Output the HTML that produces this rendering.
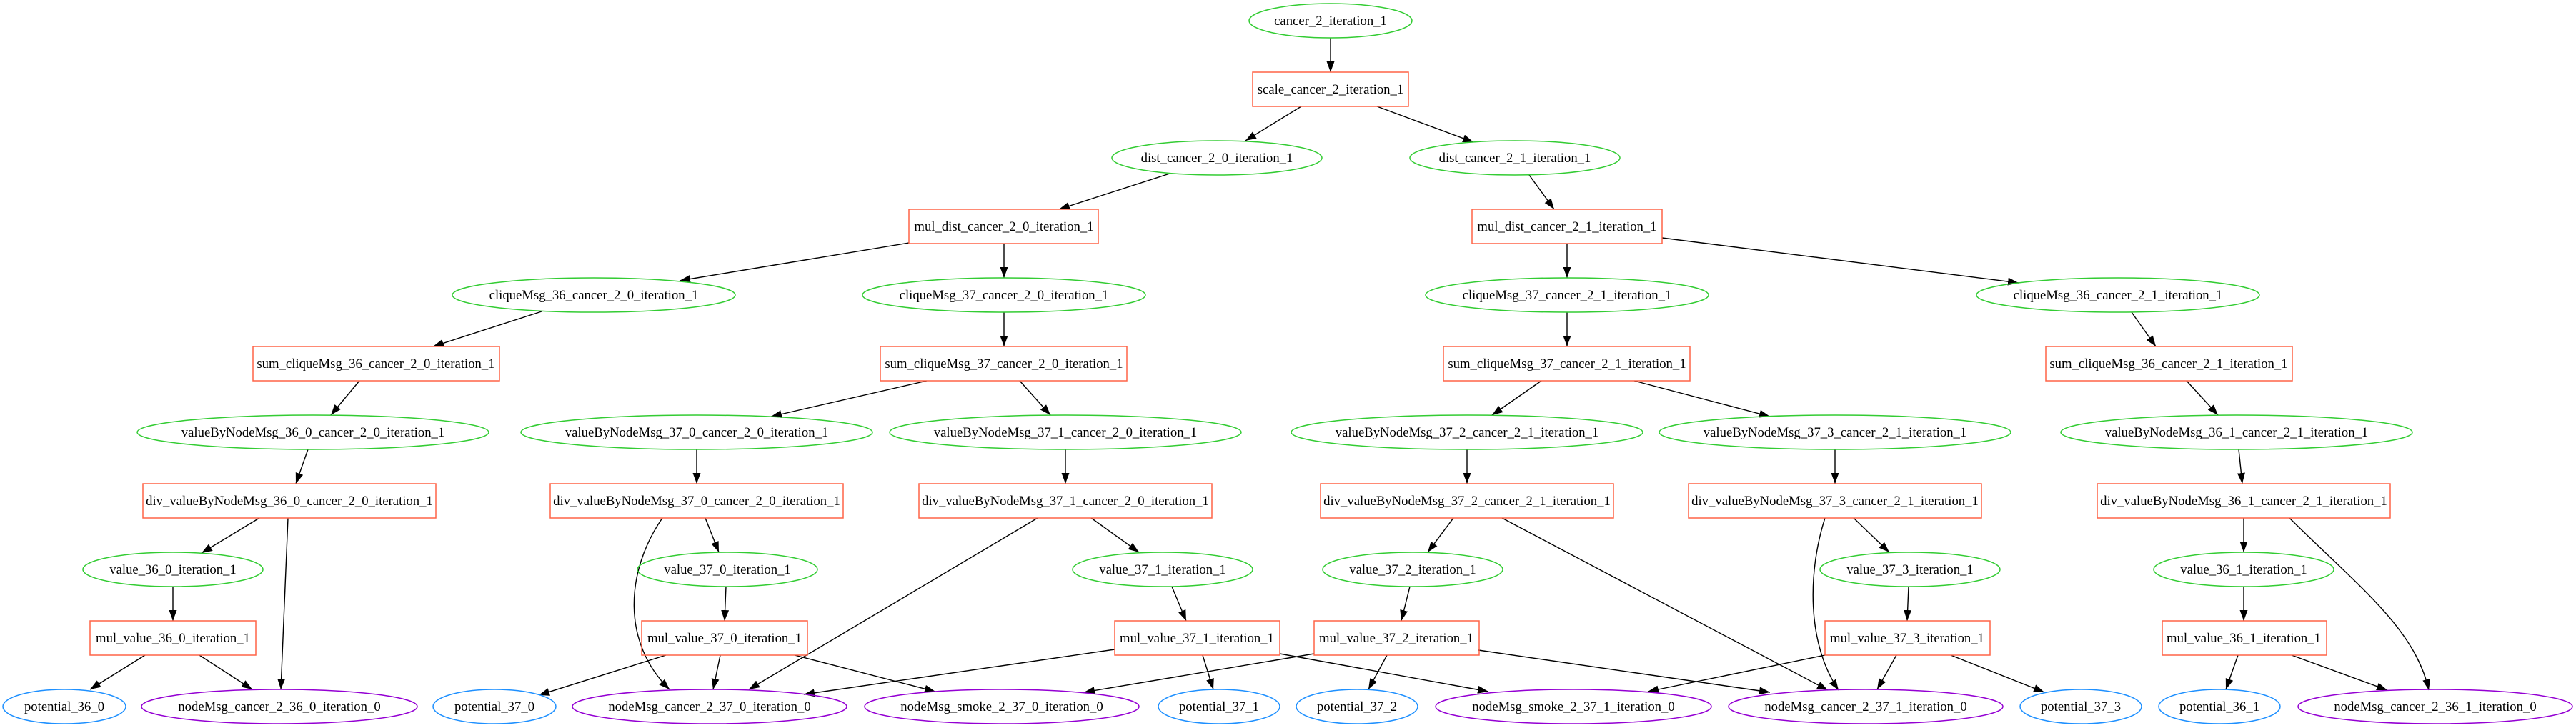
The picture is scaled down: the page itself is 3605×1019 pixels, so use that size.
<!DOCTYPE html>
<html><head><meta charset="utf-8"><style>
html,body{margin:0;padding:0;background:#fff;}
svg{display:block;}
text{font-family:"Liberation Serif","DejaVu Serif",serif;font-size:18.7px;fill:#000;text-anchor:middle;}
.g{fill:none;stroke:#33cc33;stroke-width:1.5}
.r{fill:none;stroke:#ff6347;stroke-width:1.5}
.b{fill:none;stroke:#1e90ff;stroke-width:1.5}
.p{fill:none;stroke:#9400d3;stroke-width:1.5}
.e{fill:none;stroke:#000;stroke-width:1.4;marker-end:url(#a)}
</style></head><body>
<svg width="3605" height="1019" viewBox="0 0 3605 1019" xmlns="http://www.w3.org/2000/svg">
<defs><marker id="a" markerUnits="userSpaceOnUse" markerWidth="16" markerHeight="12" refX="15" refY="5.5" orient="auto"><path d="M0,0 L15,5.5 L0,11 z" fill="#000"/></marker></defs>

<!-- edges -->
<path class="e" d="M1862,53 L1862,101"/>
<path class="e" d="M1821,149 L1743,197"/>
<path class="e" d="M1927,149 L2062,199"/>
<path class="e" d="M1637,243 L1482,293"/>
<path class="e" d="M2140,245 L2175,293"/>
<path class="e" d="M1272,340 L951,393"/>
<path class="e" d="M1405,341 L1405,389"/>
<path class="e" d="M2193,341 L2193,389"/>
<path class="e" d="M2326,333 L2825,396"/>
<path class="e" d="M758,436 L606,485"/>
<path class="e" d="M1405,437 L1405,485"/>
<path class="e" d="M2193,437 L2193,485"/>
<path class="e" d="M2983,437 L3017,485"/>
<path class="e" d="M503,533 L463,581"/>
<path class="e" d="M1297,533 L1079,583"/>
<path class="e" d="M1427,533 L1470,581"/>
<path class="e" d="M2157,533 L2088,581"/>
<path class="e" d="M2287,533 L2477,583"/>
<path class="e" d="M3060,533 L3104,581"/>
<path class="e" d="M431,629 L414,677"/>
<path class="e" d="M975,629 L975,677"/>
<path class="e" d="M1491,629 L1491,677"/>
<path class="e" d="M2053,629 L2053,677"/>
<path class="e" d="M2568,629 L2568,677"/>
<path class="e" d="M3133,629 L3138,677"/>
<path class="e" d="M363,725 L282,774"/>
<path class="e" d="M403,725 L393,965"/>
<path class="e" d="M987,725 L1006,773"/>
<path class="e" d="M927,725 C875,800 870,900 937,965"/>
<path class="e" d="M1527,725 L1594,773"/>
<path class="e" d="M1452,725 L1048,965"/>
<path class="e" d="M2034,725 L1998,773"/>
<path class="e" d="M2102,725 L2558,966"/>
<path class="e" d="M2594,725 L2644,773"/>
<path class="e" d="M2554,725 C2530,800 2528,900 2573,966"/>
<path class="e" d="M3140,725 L3140,773"/>
<path class="e" d="M3204,725 C3300,820 3380,880 3399,966"/>
<path class="e" d="M242,821 L242,869"/>
<path class="e" d="M1016,821 L1014,869"/>
<path class="e" d="M1640,821 L1660,869"/>
<path class="e" d="M1973,821 L1961,869"/>
<path class="e" d="M2671,821 L2669,869"/>
<path class="e" d="M3140,821 L3140,869"/>
<path class="e" d="M203,917 L126,965"/>
<path class="e" d="M279,917 L353,965"/>
<path class="e" d="M932,917 L754,973"/>
<path class="e" d="M1008,917 L998,965"/>
<path class="e" d="M1112,917 L1309,968"/>
<path class="e" d="M1560,909 L1125,972"/>
<path class="e" d="M1683,917 L1698,965"/>
<path class="e" d="M1791,915 L2083,968"/>
<path class="e" d="M1839,915 L1517,969"/>
<path class="e" d="M1941,917 L1915,965"/>
<path class="e" d="M2069,910 L2477,969"/>
<path class="e" d="M2554,917 L2306,968"/>
<path class="e" d="M2654,917 L2627,965"/>
<path class="e" d="M2730,917 L2861,969"/>
<path class="e" d="M3132,917 L3115,965"/>
<path class="e" d="M3207,917 L3341,966"/>

<!-- L0 -->
<ellipse class="g" cx="1862" cy="29" rx="114" ry="24"/><text x="1862" y="35">cancer_2_iteration_1</text>
<!-- L1 -->
<rect class="r" x="1753" y="101" width="218" height="48"/><text x="1862" y="131">scale_cancer_2_iteration_1</text>
<!-- L2 -->
<ellipse class="g" cx="1703" cy="221" rx="147" ry="24"/><text x="1703" y="227">dist_cancer_2_0_iteration_1</text>
<ellipse class="g" cx="2120" cy="221" rx="147" ry="24"/><text x="2120" y="227">dist_cancer_2_1_iteration_1</text>
<!-- L3 -->
<rect class="r" x="1272" y="293" width="265" height="48"/><text x="1405" y="323">mul_dist_cancer_2_0_iteration_1</text>
<rect class="r" x="2060" y="293" width="266" height="48"/><text x="2193" y="323">mul_dist_cancer_2_1_iteration_1</text>
<!-- L4 -->
<ellipse class="g" cx="831" cy="413" rx="198" ry="24"/><text x="831" y="419">cliqueMsg_36_cancer_2_0_iteration_1</text>
<ellipse class="g" cx="1405" cy="413" rx="198" ry="24"/><text x="1405" y="419">cliqueMsg_37_cancer_2_0_iteration_1</text>
<ellipse class="g" cx="2193" cy="413" rx="198" ry="24"/><text x="2193" y="419">cliqueMsg_37_cancer_2_1_iteration_1</text>
<ellipse class="g" cx="2964" cy="413" rx="198" ry="24"/><text x="2964" y="419">cliqueMsg_36_cancer_2_1_iteration_1</text>
<!-- L5 -->
<rect class="r" x="354" y="485" width="345" height="48"/><text x="526" y="515">sum_cliqueMsg_36_cancer_2_0_iteration_1</text>
<rect class="r" x="1232" y="485" width="345" height="48"/><text x="1405" y="515">sum_cliqueMsg_37_cancer_2_0_iteration_1</text>
<rect class="r" x="2020" y="485" width="345" height="48"/><text x="2193" y="515">sum_cliqueMsg_37_cancer_2_1_iteration_1</text>
<rect class="r" x="2863" y="485" width="345" height="48"/><text x="3035" y="515">sum_cliqueMsg_36_cancer_2_1_iteration_1</text>
<!-- L6 -->
<ellipse class="g" cx="438" cy="605" rx="246" ry="24"/><text x="438" y="611">valueByNodeMsg_36_0_cancer_2_0_iteration_1</text>
<ellipse class="g" cx="975" cy="605" rx="246" ry="24"/><text x="975" y="611">valueByNodeMsg_37_0_cancer_2_0_iteration_1</text>
<ellipse class="g" cx="1491" cy="605" rx="246" ry="24"/><text x="1491" y="611">valueByNodeMsg_37_1_cancer_2_0_iteration_1</text>
<ellipse class="g" cx="2053" cy="605" rx="246" ry="24"/><text x="2053" y="611">valueByNodeMsg_37_2_cancer_2_1_iteration_1</text>
<ellipse class="g" cx="2568" cy="605" rx="246" ry="24"/><text x="2568" y="611">valueByNodeMsg_37_3_cancer_2_1_iteration_1</text>
<ellipse class="g" cx="3130" cy="605" rx="246" ry="24"/><text x="3130" y="611">valueByNodeMsg_36_1_cancer_2_1_iteration_1</text>
<!-- L7 -->
<rect class="r" x="200" y="677" width="410" height="48"/><text x="405" y="707">div_valueByNodeMsg_36_0_cancer_2_0_iteration_1</text>
<rect class="r" x="770" y="677" width="410" height="48"/><text x="975" y="707">div_valueByNodeMsg_37_0_cancer_2_0_iteration_1</text>
<rect class="r" x="1286" y="677" width="410" height="48"/><text x="1491" y="707">div_valueByNodeMsg_37_1_cancer_2_0_iteration_1</text>
<rect class="r" x="1848" y="677" width="410" height="48"/><text x="2053" y="707">div_valueByNodeMsg_37_2_cancer_2_1_iteration_1</text>
<rect class="r" x="2363" y="677" width="410" height="48"/><text x="2568" y="707">div_valueByNodeMsg_37_3_cancer_2_1_iteration_1</text>
<rect class="r" x="2935" y="677" width="410" height="48"/><text x="3140" y="707">div_valueByNodeMsg_36_1_cancer_2_1_iteration_1</text>
<!-- L8 -->
<ellipse class="g" cx="242" cy="797" rx="126" ry="24"/><text x="242" y="803">value_36_0_iteration_1</text>
<ellipse class="g" cx="1018" cy="797" rx="126" ry="24"/><text x="1018" y="803">value_37_0_iteration_1</text>
<ellipse class="g" cx="1627" cy="797" rx="126" ry="24"/><text x="1627" y="803">value_37_1_iteration_1</text>
<ellipse class="g" cx="1977" cy="797" rx="126" ry="24"/><text x="1977" y="803">value_37_2_iteration_1</text>
<ellipse class="g" cx="2673" cy="797" rx="126" ry="24"/><text x="2673" y="803">value_37_3_iteration_1</text>
<ellipse class="g" cx="3140" cy="797" rx="126" ry="24"/><text x="3140" y="803">value_36_1_iteration_1</text>
<!-- L9 -->
<rect class="r" x="126" y="869" width="232" height="48"/><text x="242" y="899">mul_value_36_0_iteration_1</text>
<rect class="r" x="898" y="869" width="232" height="48"/><text x="1014" y="899">mul_value_37_0_iteration_1</text>
<rect class="r" x="1560" y="869" width="231" height="48"/><text x="1675" y="899">mul_value_37_1_iteration_1</text>
<rect class="r" x="1839" y="869" width="231" height="48"/><text x="1954" y="899">mul_value_37_2_iteration_1</text>
<rect class="r" x="2554" y="869" width="231" height="48"/><text x="2669" y="899">mul_value_37_3_iteration_1</text>
<rect class="r" x="3026" y="869" width="230" height="48"/><text x="3140" y="899">mul_value_36_1_iteration_1</text>
<!-- L10 -->
<ellipse class="b" cx="90" cy="989" rx="86" ry="24"/><text x="90" y="995">potential_36_0</text>
<ellipse class="p" cx="391" cy="989" rx="193" ry="24"/><text x="391" y="995">nodeMsg_cancer_2_36_0_iteration_0</text>
<ellipse class="b" cx="692" cy="989" rx="86" ry="24"/><text x="692" y="995">potential_37_0</text>
<ellipse class="p" cx="993" cy="989" rx="192" ry="24"/><text x="993" y="995">nodeMsg_cancer_2_37_0_iteration_0</text>
<ellipse class="p" cx="1402" cy="989" rx="192" ry="24"/><text x="1402" y="995">nodeMsg_smoke_2_37_0_iteration_0</text>
<ellipse class="b" cx="1706" cy="989" rx="85" ry="24"/><text x="1706" y="995">potential_37_1</text>
<ellipse class="b" cx="1899" cy="989" rx="85" ry="24"/><text x="1899" y="995">potential_37_2</text>
<ellipse class="p" cx="2202" cy="989" rx="193" ry="24"/><text x="2202" y="995">nodeMsg_smoke_2_37_1_iteration_0</text>
<ellipse class="p" cx="2611" cy="989" rx="192" ry="24"/><text x="2611" y="995">nodeMsg_cancer_2_37_1_iteration_0</text>
<ellipse class="b" cx="2912" cy="989" rx="85" ry="24"/><text x="2912" y="995">potential_37_3</text>
<ellipse class="b" cx="3106" cy="989" rx="85" ry="24"/><text x="3106" y="995">potential_36_1</text>
<ellipse class="p" cx="3408" cy="989" rx="192" ry="24"/><text x="3408" y="995">nodeMsg_cancer_2_36_1_iteration_0</text>
</svg>
</body></html>
